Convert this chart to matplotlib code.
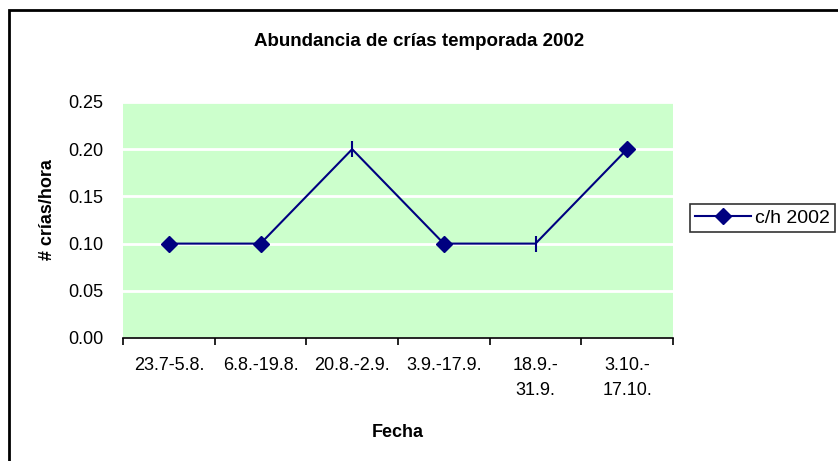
import matplotlib.pyplot as plt
from matplotlib.patches import Rectangle

categories = ["23.7-5.8.", "6.8.-19.8.", "20.8.-2.9.", "3.9.-17.9.", "18.9.-\n31.9.", "3.10.-\n17.10."]
values = [0.10, 0.10, 0.20, 0.10, 0.10, 0.20]
markers = ["D", "D", "|", "D", "|", "D"]
yticks = [0, 0.05, 0.10, 0.15, 0.20, 0.25]

plt.rcParams['font.family'] = ['Liberation Sans', 'DejaVu Sans']

fig = plt.figure(figsize=(8.38, 4.61), dpi=100)
W, H = 838, 461
ax = fig.add_axes([123 / W, 1 - 338 / H, 550 / W, 236 / H])
ax.set_facecolor("#CCFFCC")

x = list(range(len(categories)))
navy = "#000080"
ax.plot(x, values, "-", color=navy, lw=1.5, zorder=3)
for xi, yi, m in zip(x, values, markers):
    if m == "D":
        ax.plot(xi, yi, marker="D", ms=8, color=navy, zorder=4)
    else:
        ax.plot(xi, yi, marker="|", ms=12, mew=1.5, color=navy, zorder=4)

ax.set_xlim(-0.5, len(categories) - 0.5)
ax.set_ylim(0, 0.25)
ax.set_yticks(yticks)
ax.set_yticklabels([f"{v:.2f}" for v in yticks], fontsize=13)
ax.yaxis.grid(True, color="white", lw=2)
ax.set_axisbelow(True)

ax.set_xticks([i - 0.5 for i in range(len(categories) + 1)])
ax.set_xticklabels([])
ax.set_xticks(x, minor=True)
ax.set_xticklabels(categories, minor=True, fontsize=13, linespacing=1.6)
ax.tick_params(axis="x", which="minor", length=0, pad=14)
ax.tick_params(axis="x", which="major", direction="out", length=5, width=1.2)
ax.tick_params(axis="y", length=0, pad=14)

for s in ["top", "right", "left"]:
    ax.spines[s].set_visible(False)
ax.spines["bottom"].set_linewidth(1.2)

fig.text(398 / W, 1 - 432 / H, "Fecha", fontsize=13, fontweight="bold", ha="center", va="center")
fig.text(47 / W, 1 - 210 / H, "# crías/hora", fontsize=13, fontweight="bold",
         ha="center", va="center", rotation=90)
fig.text(419 / W, 1 - 42 / H, "Abundancia de crías temporada 2002", fontsize=13.5,
         fontweight="bold", ha="center", va="center")

leg = ax.legend(["c/h 2002"], loc="center left",
                bbox_to_anchor=(690 / W, 1 - 218 / H), bbox_transform=fig.transFigure,
                fontsize=14, frameon=True, fancybox=False, edgecolor="black",
                handlelength=2.9, borderpad=0.25, handletextpad=0.2, borderaxespad=0)
leg.get_frame().set_linewidth(1.2)
h = leg.legend_handles[0]
h.set_marker("D")
h.set_markersize(8)

fig.patches.append(Rectangle((9 / W, -0.1), 1.2, 1 - 10 / H + 0.1, transform=fig.transFigure,
                             fill=False, edgecolor="black", lw=2))

fig.savefig("out.png", dpi=100)
